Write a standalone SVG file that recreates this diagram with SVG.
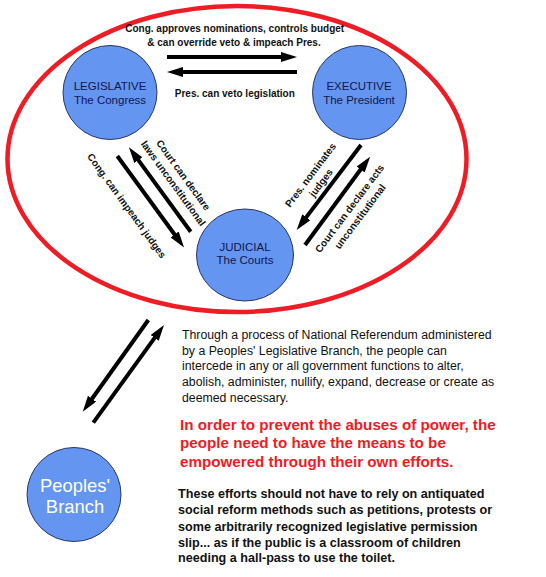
<svg xmlns="http://www.w3.org/2000/svg" width="546" height="577" viewBox="0 0 546 577">
<style>
  .node { fill: #6495f0; stroke: #2b3766; stroke-width: 1; }
  .ntxt { font-family: "Liberation Sans", Arial, sans-serif; font-size: 11.5px; fill: #121650; text-anchor: middle; }
  .ptxt { font-family: "Liberation Sans", Arial, sans-serif; font-size: 18.4px; fill: #ffffff; text-anchor: middle; }
  .lbl { font-family: "Liberation Sans", Arial, sans-serif; font-size: 10px; font-weight: bold; fill: #111; text-anchor: middle; }
  .arr { stroke: #000; stroke-width: 4; fill: none; marker-end: url(#ah); }
  .para { font-family: "Liberation Sans", Arial, sans-serif; font-size: 12.3px; fill: #111; }
  .red { font-family: "Liberation Sans", Arial, sans-serif; font-size: 15.2px; font-weight: bold; fill: #ee1c24; }
  .bold { font-family: "Liberation Sans", Arial, sans-serif; font-size: 12.6px; font-weight: bold; fill: #111; }
</style>
<defs>
  <marker id="ah" markerUnits="userSpaceOnUse" markerWidth="16" markerHeight="10" refX="4" refY="5" orient="auto">
    <path d="M0,0 L16,5 L0,10 z" fill="#000"/>
  </marker>
</defs>
<rect width="546" height="577" fill="#fff"/>
<ellipse cx="237" cy="159" rx="229.5" ry="153" fill="none" stroke="#ee1c24" stroke-width="4.5"/>

<g id="connectors">
  <line class="arr" x1="167" y1="57" x2="285" y2="57"/>
  <line class="arr" x1="297" y1="72" x2="179" y2="72"/>
  <line class="arr" x1="117.3" y1="156" x2="177" y2="237.7"/>
  <line class="arr" x1="190.7" y1="231.7" x2="136" y2="156.9"/>
  <line class="arr" x1="361" y1="145" x2="303.9" y2="220.4"/>
  <line class="arr" x1="305" y1="245" x2="363" y2="166.3"/>
  <line class="arr" x1="148.3" y1="320" x2="89.7" y2="402"/>
  <line class="arr" x1="93.3" y1="422.7" x2="157" y2="334.7"/>
  <text class="lbl" x="234.7" y="32.3">Cong. approves nominations, controls budget</text>
  <text class="lbl" x="234" y="46">&amp; can override veto &amp; impeach Pres.</text>
  <text class="lbl" x="234.8" y="96.7">Pres. can veto legislation</text>
  <text class="lbl" transform="translate(126.7,205.8) rotate(54)" dy="0.35em">Cong. can impeach judges</text>
  <text class="lbl" transform="translate(183.3,175) rotate(54)" dy="0.35em">Court can declare</text>
  <text class="lbl" transform="translate(173.3,183.3) rotate(54)" dy="0.35em">laws unconstitutional</text>
  <text class="lbl" transform="translate(310.5,175) rotate(-53)" dy="0.35em">Pres. nominates</text>
  <text class="lbl" transform="translate(320.9,182.8) rotate(-53)" dy="0.35em">judges</text>
  <text class="lbl" transform="translate(349.5,208.5) rotate(-53)" dy="0.35em">Court can declare acts</text>
  <text class="lbl" transform="translate(360,216.5) rotate(-53)" dy="0.35em">unconstitutional</text>
</g>

<g id="legislative">
  <circle class="node" cx="110" cy="92.5" r="47"/>
  <text class="ntxt" x="110" y="90">LEGISLATIVE</text>
  <text class="ntxt" x="110" y="104">The Congress</text>
</g>
<g id="executive">
  <circle class="node" cx="359.5" cy="92.5" r="47"/>
  <text class="ntxt" x="359" y="90">EXECUTIVE</text>
  <text class="ntxt" x="359" y="104">The President</text>
</g>
<g id="judicial">
  <ellipse class="node" cx="245" cy="255" rx="48.5" ry="46"/>
  <text class="ntxt" x="245" y="251">JUDICIAL</text>
  <text class="ntxt" x="245" y="264">The Courts</text>
</g>
<g id="peoples">
  <circle class="node" cx="74" cy="494.5" r="47"/>
  <text class="ptxt" x="75" y="492">Peoples'</text>
  <text class="ptxt" x="75" y="513">Branch</text>
</g>

<g id="text-blocks">
  <text class="para">
    <tspan x="182" y="339">Through a process of National Referendum administered</tspan>
    <tspan x="182" y="354.7">by a Peoples' Legislative Branch, the people can</tspan>
    <tspan x="182" y="370.4">intercede in any or all government functions to alter,</tspan>
    <tspan x="182" y="386">abolish, administer, nullify, expand, decrease or create as</tspan>
    <tspan x="182" y="401.6">deemed necessary.</tspan>
  </text>
  <text class="red">
    <tspan x="180" y="430">In order to prevent the abuses of power, the</tspan>
    <tspan x="180" y="448.3">people need to have the means to be</tspan>
    <tspan x="180" y="466.7">empowered through their own efforts.</tspan>
  </text>
  <text class="bold">
    <tspan x="178" y="498.3">These efforts should not have to rely on antiquated</tspan>
    <tspan x="178" y="514.3">social reform methods such as petitions, protests or</tspan>
    <tspan x="178" y="530.6">some arbitrarily recognized legislative permission</tspan>
    <tspan x="178" y="546.7">slip... as if the public is a classroom of children</tspan>
    <tspan x="178" y="562.3">needing a hall-pass to use the toilet.</tspan>
  </text>
</g>
</svg>
